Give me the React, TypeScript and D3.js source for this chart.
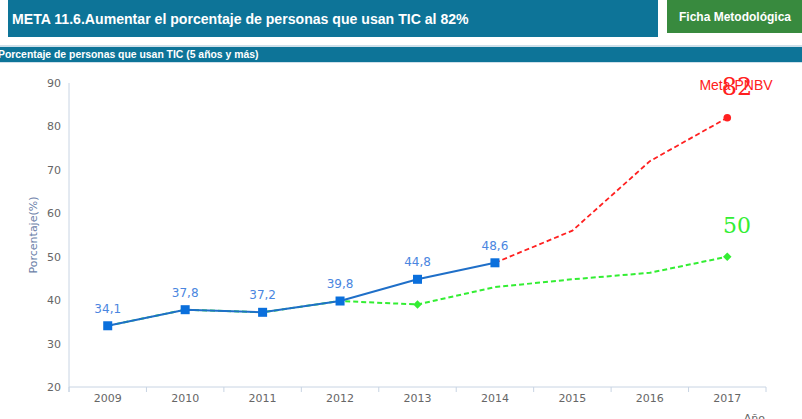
import React from "react";
import * as d3 from "d3";

const years = ["2009", "2010", "2011", "2012", "2013", "2014", "2015", "2016", "2017"];
const realValues = [34.1, 37.8, 37.2, 39.8, 44.8, 48.6];
const realLabels = ["34,1", "37,8", "37,2", "39,8", "44,8", "48,6"];
const metaYears = ["2014", "2015", "2016", "2017"];
const metaValues = [48.6, 56.0, 72.0, 82];
const trendYears = ["2009", "2010", "2011", "2012", "2013", "2014", "2015", "2016", "2017"];
const trendValues = [34.1, 37.8, 37.2, 39.8, 39.0, 43.0, 44.8, 46.3, 50];
const yTicks = [20, 30, 40, 50, 60, 70, 80, 90];

export default function App() {
  const W = 802, H = 419;
  const x = d3.scaleBand<string>().domain(years).range([69, 766]);
  const cx = (c: string) => (x(c) ?? 0) + x.bandwidth() / 2;
  const y = d3.scaleLinear().domain([20, 90]).range([387, 83]);
  const line = d3.line<[string, number]>().x((d) => cx(d[0])).y((d) => y(d[1]));
  const realPts: [string, number][] = realValues.map((v, i) => [years[i], v]);
  const metaPts: [string, number][] = metaValues.map((v, i) => [metaYears[i], v]);
  const trendPts: [string, number][] = trendValues.map((v, i) => [trendYears[i], v]);
  const font = "Liberation Sans, Arial, sans-serif";
  const boundaries = years.map((yr) => x(yr) ?? 0).concat([766]);

  return (
    <svg width={W} height={H} style={{ position: "absolute", left: 0, top: 0 }}>
      <rect x={0} y={0} width={W} height={H} fill="#fff" />
      {/* header */}
      <rect x={8} y={0} width={650} height={37} fill="#0d7498" />
      <text x={12} y={24} fill="#fff" fontFamily={font} fontWeight="bold" fontSize={14.1}>
        META 11.6.Aumentar el porcentaje de personas que usan TIC al 82%
      </text>
      <rect x={667} y={0} width={135} height={33} fill="#388a3e" />
      <text x={735} y={21} fill="#fff" fontFamily={font} fontWeight="bold" fontSize={12} textAnchor="middle">
        Ficha Metodológica
      </text>
      <rect x={0} y={45} width={W} height={18} fill="#cfe0ea" />
      <rect x={0} y={47} width={W} height={15} fill="#0d7498" />
      <text x={-2} y={58} fill="#fff" fontFamily={font} fontWeight="bold" fontSize={10.4}>
        Porcentaje de personas que usan TIC (5 años y más)
      </text>

      {/* axes */}
      <line x1={69} x2={69} y1={83} y2={392} stroke="#c8d4e3" strokeWidth={1} />
      <line x1={69} x2={766} y1={387} y2={387} stroke="#c8d4e3" strokeWidth={1} />
      {boundaries.map((b, i) => (
        <line key={i} x1={b} x2={b} y1={387} y2={392} stroke="#c8d4e3" />
      ))}
      {yTicks.map((t) => (
        <text key={t} x={61} y={y(t) + 4} textAnchor="end" fill="#666" fontFamily="DejaVu Sans, sans-serif" fontSize={11}>
          {t}
        </text>
      ))}
      {years.map((yr) => (
        <text key={yr} x={cx(yr)} y={402} textAnchor="middle" fill="#666" fontFamily="DejaVu Sans, sans-serif" fontSize={11}>
          {yr}
        </text>
      ))}
      <text x={765} y={422} textAnchor="end" fill="#666" fontFamily="DejaVu Sans, sans-serif" fontSize={11}>Año</text>
      <text transform={`translate(37,235) rotate(-90)`} textAnchor="middle" fill="#6b80a8" fontFamily="DejaVu Sans, sans-serif" fontSize={11}>
        Porcentaje(%)
      </text>

      {/* trend (green) */}
      <path d={line(trendPts) ?? ""} fill="none" stroke="#33ee33" strokeWidth={2} strokeDasharray="5,3" />
      {trendPts.filter((p) => p[0] === "2013" || p[0] === "2017").map((p) => (
        <rect key={p[0]} x={-3} y={-3} width={6} height={6} transform={`translate(${cx(p[0])},${y(p[1])}) rotate(45)`} fill="#33ee33" />
      ))}
      {/* meta (red) */}
      <path d={line(metaPts) ?? ""} fill="none" stroke="#ff2020" strokeWidth={1.8} strokeDasharray="5,3" />
      <circle cx={cx("2017")} cy={y(82)} r={3.8} fill="#ff2020" />
      {/* real (blue) */}
      <path d={line(realPts) ?? ""} fill="none" stroke="#1f6fc8" strokeWidth={2} />
      {realPts.map((p) => (
        <rect key={p[0]} x={cx(p[0]) - 4.5} y={y(p[1]) - 4.5} width={9} height={9} fill="#0a6fdc" />
      ))}
      {realPts.map((p, i) => (
        <text key={p[0]} x={cx(p[0])} y={y(p[1]) - 13} textAnchor="middle" fill="#4a86e0" fontFamily="DejaVu Sans, sans-serif" fontSize={12}>
          {realLabels[i]}
        </text>
      ))}

      {/* annotations */}
      <text x={736} y={90} textAnchor="middle" fill="#ff2020" fontFamily={font} fontSize={14}>Meta PNBV</text>
      <text x={737} y={95} textAnchor="middle" fill="#ff2020" fontFamily="DejaVu Serif, serif" fontSize={24}>82</text>
      <text x={737} y={233} textAnchor="middle" fill="#33ee33" fontFamily="DejaVu Serif, serif" fontSize={22}>50</text>
    </svg>
  );
}
